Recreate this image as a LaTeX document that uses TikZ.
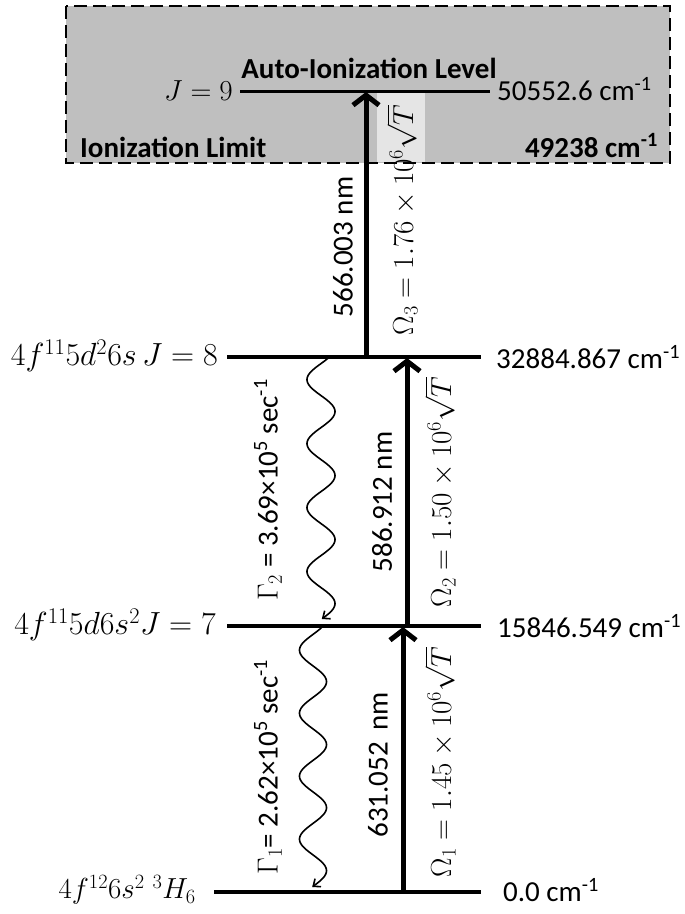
\RequirePackage{fix-cm}
\documentclass[tikz,border=0pt]{standalone}
\usepackage{amsmath}
\usepackage[no-math]{fontspec}
\setmainfont{Carlito}
\usetikzlibrary{arrows.meta}
\begin{document}
\begin{tikzpicture}[x=1pt,y=-1pt,
  every node/.style={inner sep=0pt, font=\fontsize{29}{34}\selectfont},
  big/.style={font=\fontsize{32}{37}\selectfont},
  level/.style={line width=3.5pt},
  exc/.style={line width=5pt, -{Straight Barb[length=10pt,width=26pt]}},
  wave/.style={line width=1.6pt, -{Straight Barb[length=6pt,width=10pt]}},
  lab/.style={rotate=90}]
\useasboundingbox (0,0) rectangle (685,914);
% ionization region
\fill[black!25] (66,6) rectangle (670,163);
\fill[black!10] (377,92) rectangle (425,162);
\draw[line width=2pt, dash pattern=on 13pt off 6pt] (66,6) rectangle (670,163);
% level end points
\coordinate (L9a) at (240,91);  \coordinate (L9b) at (490,91);
\coordinate (L8a) at (227,357); \coordinate (L8b) at (481,357);
\coordinate (L7a) at (227,626); \coordinate (L7b) at (481,626);
\coordinate (L0a) at (214,892); \coordinate (L0b) at (481,892);
\draw[line width=3pt] (L9a) -- (L9b);
\draw[level] (L8a) -- (L8b);
\draw[level] (L7a) -- (L7b);
\draw[level] (L0a) -- (L0b);
% level labels
\node[anchor=east] (t9) at (233,91) {$J = 9$};
\node[anchor=west] (e9) at (497,89) {50552.6 cm\textsuperscript{-1}};
\node[anchor=base, font=\fontsize{29}{34}\selectfont\bfseries] (auto) at (369,78) {Auto-Ionization Level};
\node[anchor=base west, font=\fontsize{29}{34}\selectfont\bfseries] (ilim) at (80,157) {Ionization Limit};
\node[anchor=base east, font=\fontsize{29}{34}\selectfont\bfseries] (elim) at (658,157) {49238 cm\textsuperscript{-1}};
\node[big, anchor=east] (t8) at (218,356) {$4f^{11}5d^2 6s\,J = 8$};
\node[anchor=west] (e8) at (496,357) {32884.867 cm\textsuperscript{-1}};
\node[big, anchor=east] (t7) at (216,625) {$4f^{11}5d6s^2 J = 7$};
\node[anchor=west] (e7) at (497,626) {15846.549 cm\textsuperscript{-1}};
\node[anchor=east] (t0) at (196,890) {$4f^{12}6s^2\;{}^3H_6$};
\node[anchor=west] (e0) at (503,890) {0.0 cm\textsuperscript{-1}};
% excitation arrows
\coordinate (a3s) at (366,357); \coordinate (a3e) at (366,92);
\coordinate (a2s) at (407,626); \coordinate (a2e) at (407,358);
\coordinate (a1s) at (403,890); \coordinate (a1e) at (403,627);
\draw[exc] (a3s) -- (a3e);
\draw[exc] (a2s) -- (a2e);
\draw[exc] (a1s) -- (a1e);
% decay waves
\coordinate (w2s) at (329.4,357);
\coordinate (w1s) at (323,626);
\draw[wave] (w2s) plot[domain=357:619, samples=240, smooth] ({321+14*cos(53+5.625*(\x-357))}, \x);
\draw[wave] (w1s) plot[domain=626:887, samples=240, smooth] ({313+13.5*cos(42+5.714*(\x-626))}, \x);
% transition labels
\node[lab] (n3) at (343,247) {566.003 nm};
\node[lab] (o3) at (402,220) {$\Omega_3 = 1.76 \times 10^6\sqrt{T}$};
\node[lab] (g2) at (268,490) {$\Gamma_2$ = 3.69×10\textsuperscript{5} sec\textsuperscript{-1}};
\node[lab] (n2) at (382,502) {586.912 nm};
\node[lab] (o2) at (440,492) {$\Omega_2 = 1.50 \times 10^6\sqrt{T}$};
\node[lab] (g1) at (268,767) {$\Gamma_1$= 2.62×10\textsuperscript{5} sec\textsuperscript{-1}};
\node[lab] (n1) at (378,765) {631.052\, nm};
\node[lab] (o1) at (440,762) {$\Omega_1 = 1.45 \times 10^6\sqrt{T}$};
\end{tikzpicture}
\end{document}
